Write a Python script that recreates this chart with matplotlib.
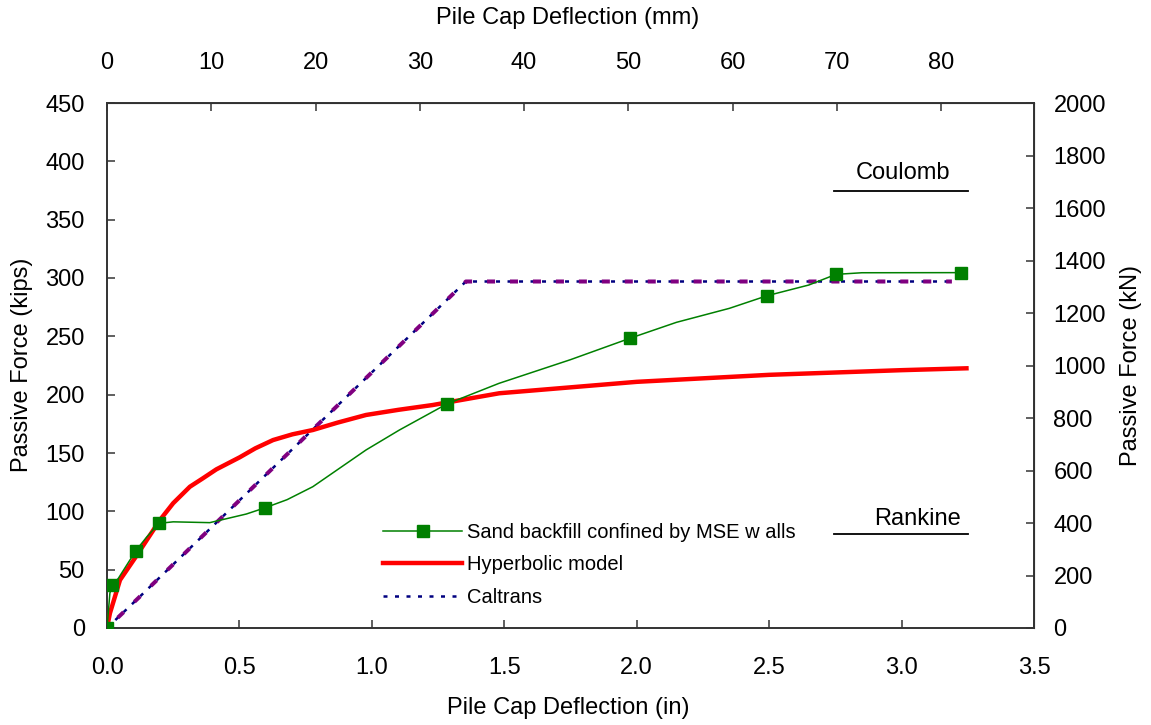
import numpy as np
import matplotlib.pyplot as plt

plt.rcParams['font.family'] = ['Liberation Sans', 'DejaVu Sans']

# measured load-deflection (in, kips)
sand_x = [0.0, 0.011, 0.02, 0.043, 0.109, 0.15, 0.196, 0.25, 0.388, 0.526, 0.595,
          0.68, 0.777, 0.978, 1.104, 1.283, 1.48, 1.75, 1.974, 2.15, 2.35, 2.492, 2.65,
          2.752, 2.85, 3.224]
sand_y = [0.0, 30.0, 36.6, 42.6, 66.3, 78.0, 89.7, 91.0, 90.3, 97.7, 102.9,
          110.0, 121.1, 152.6, 169.7, 192.0, 209.7, 230.0, 248.3, 262.0, 274.0, 284.8, 294.0,
          303.1, 304.5, 304.6]
sand_marks = [0, 2, 4, 6, 10, 15, 18, 21, 23, 25]

# hyperbolic model
hyp_x = [0.0, 0.011, 0.049, 0.109, 0.2, 0.25, 0.313, 0.36, 0.413, 0.501, 0.56, 0.627,
         0.7, 0.777, 0.87, 0.978, 1.1, 1.229, 1.481, 1.857, 2.0, 2.5, 3.0, 3.245]
hyp_y = [0.0, 12.6, 41.1, 61.1, 92.6, 107.0, 121.1, 128.0, 136.0, 146.3, 154.0, 161.1,
         166.0, 169.7, 176.0, 182.6, 187.0, 191.1, 201.2, 208.3, 211.0, 217.0, 221.0, 222.6]

# Caltrans
cal_x = [0.0, 0.124, 1.355, 3.19]
cal_y = [0.0, 26.9, 297.0, 297.0]

# theory levels (kips)
coulomb_kips = 374.8
rankine_kips = 80.3
theory_x = [2.744, 3.25]

IN2MM = 25.4
KIP2KN = 4.448
FS = 17

fig = plt.figure(figsize=(11.51, 7.25), dpi=100)
ax = fig.add_axes([107 / 1151, 1 - 628 / 725, 927 / 1151, 525 / 725])

ax.plot(sand_x, sand_y, color='#008000', lw=1.1, marker='s', markersize=8,
        markevery=sand_marks, label='Sand backfill confined by MSE w alls', zorder=4)
ax.plot(hyp_x, hyp_y, color='#ff0000', lw=3.2, label='Hyperbolic model', zorder=3)
ax.plot(cal_x, cal_y, color='#000080', lw=1.8, linestyle=(0, (1.6, 3.0)),
        label='Caltrans', zorder=2)
ax.plot(cal_x, cal_y, color='#800080', lw=2.9, linestyle=(2, (2.0, 3.7)),
        label='_nolegend_', zorder=2)

ax.plot(theory_x, [coulomb_kips] * 2, color='black', lw=1.3)
ax.plot(theory_x, [rankine_kips] * 2, color='black', lw=1.3)
ax.annotate('Coulomb', (3.005, coulomb_kips), xytext=(0, 5), textcoords='offset points',
            ha='center', va='bottom', fontsize=FS)
ax.annotate('Rankine', (3.06, rankine_kips), xytext=(0, 3), textcoords='offset points',
            ha='center', va='bottom', fontsize=FS)

ax.set_xlim(0, 3.5)
ax.set_ylim(0, 450)
ax.set_xticks(np.arange(0, 3.51, 0.5))
ax.set_xticklabels([f'{v:.1f}' for v in np.arange(0, 3.51, 0.5)])
ax.set_yticks(np.arange(0, 451, 50))
ax.tick_params(axis='x', direction='in', length=6, width=1.2, pad=21, labelsize=FS,
               color='#444444')
ax.tick_params(axis='y', direction='in', length=6, width=1.2, pad=16, labelsize=FS,
               color='#444444')
for s in ax.spines.values():
    s.set_color('#333333')
    s.set_linewidth(1.4)

secx = ax.secondary_xaxis('top', functions=(lambda x: x * IN2MM, lambda x: x / IN2MM))
secx.set_xticks(np.arange(0, 81, 10))
secx.tick_params(direction='in', length=6, width=1.2, pad=21, labelsize=FS, color='#444444')
secy = ax.secondary_yaxis('right', functions=(lambda y: y * KIP2KN, lambda y: y / KIP2KN))
secy.set_yticks(np.arange(0, 2001, 200))
secy.tick_params(direction='in', length=6, width=1.2, pad=14, labelsize=FS, color='#444444')

# axis titles placed in figure pixels
fig.text(568 / 1151, 1 - 708 / 725, 'Pile Cap Deflection (in)', fontsize=FS,
         ha='center', va='center')
fig.text(568 / 1151, 1 - 18 / 725, 'Pile Cap Deflection (mm)', fontsize=FS,
         ha='center', va='center')
fig.text(22 / 1151, 1 - 365 / 725, 'Passive Force (kips)', fontsize=FS,
         ha='center', va='center', rotation=90)
fig.text(1131 / 1151, 1 - 365 / 725, 'Passive Force (kN)', fontsize=FS,
         ha='center', va='center', rotation=90)

ax.legend(loc='center left', bbox_to_anchor=(383 / 1151, 1 - 565 / 725),
          bbox_transform=fig.transFigure, frameon=False, fontsize=14.5,
          handlelength=3.93, handletextpad=0.25, labelspacing=0.65,
          borderpad=0, borderaxespad=0)

fig.savefig('out.png', dpi=100)
